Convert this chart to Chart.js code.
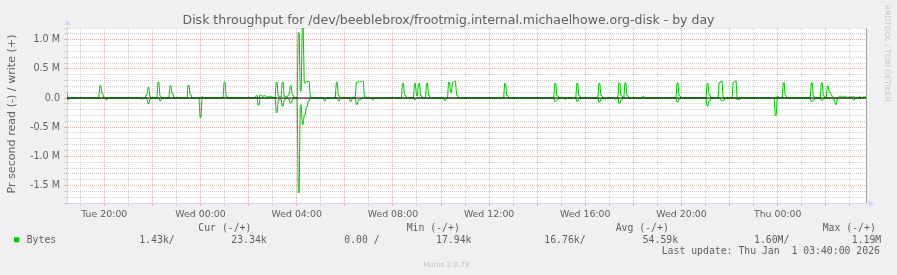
<!DOCTYPE html>
<html><head><meta charset="utf-8">
<script src="https://cdn.jsdelivr.net/npm/chart.js@4/dist/chart.umd.min.js"></script>
<style>html,body{margin:0;padding:0;background:#F0F0F0;}canvas{display:block;}</style>
</head><body>
<canvas id="c" width="897" height="275"></canvas>
<script>
// ---- data (values in M bytes/s; read shown below zero) ----
const times = [
"Tue 18:25","Tue 18:30","Tue 18:35","Tue 19:45","Tue 19:50","Tue 19:55","Tue 20:00","Tue 20:05","Tue 20:10",
"Tue 21:30","Tue 21:35","Tue 21:40","Tue 21:45","Tue 21:50","Tue 21:55","Tue 22:00","Tue 22:10","Tue 22:15","Tue 22:20","Tue 22:25",
"Tue 22:40","Tue 22:45","Tue 22:50","Tue 22:55","Tue 23:25","Tue 23:30","Tue 23:35","Tue 23:40","Tue 23:55",
"Wed 00:00","Wed 00:05","Wed 00:10","Wed 00:55","Wed 01:00","Wed 01:05","Wed 01:10",
"Wed 02:15","Wed 02:20","Wed 02:25","Wed 02:30","Wed 02:35","Wed 02:40","Wed 02:45","Wed 02:50","Wed 02:55","Wed 03:00","Wed 03:05",
"Wed 03:10","Wed 03:15","Wed 03:20","Wed 03:25","Wed 03:30","Wed 03:35","Wed 03:40","Wed 03:45","Wed 03:50","Wed 03:55","Wed 04:00",
"Wed 04:05","Wed 04:10","Wed 04:15","Wed 04:20","Wed 04:25","Wed 04:30","Wed 04:35","Wed 04:40",
"Wed 05:05","Wed 05:10","Wed 05:15","Wed 05:35","Wed 05:40","Wed 05:45","Wed 05:50",
"Wed 06:10","Wed 06:15","Wed 06:20","Wed 06:25","Wed 06:30","Wed 06:35","Wed 06:40","Wed 06:45","Wed 06:50","Wed 06:55",
"Wed 07:05","Wed 07:10","Wed 07:15","Wed 07:30","Wed 07:35","Wed 07:40",
"Wed 08:20","Wed 08:25","Wed 08:30","Wed 08:35","Wed 08:40","Wed 08:50","Wed 08:55","Wed 09:00","Wed 09:05","Wed 09:10","Wed 09:15",
"Wed 09:20","Wed 09:25","Wed 09:30","Wed 09:35","Wed 10:05","Wed 10:10","Wed 10:15","Wed 10:20","Wed 10:25","Wed 10:30","Wed 10:35","Wed 10:40","Wed 10:45",
"Wed 12:35","Wed 12:40","Wed 12:45","Wed 12:50",
"Wed 14:40","Wed 14:45","Wed 14:50","Wed 14:55","Wed 15:05","Wed 15:10","Wed 15:15",
"Wed 15:35","Wed 15:40","Wed 15:45","Wed 15:50","Wed 16:30","Wed 16:35","Wed 16:40","Wed 16:45","Wed 16:50","Wed 16:55",
"Wed 17:10","Wed 17:15","Wed 17:20","Wed 17:25","Wed 17:30","Wed 17:35","Wed 17:40","Wed 17:45","Wed 17:50",
"Wed 18:10","Wed 18:15","Wed 18:20","Wed 18:25","Wed 18:30","Wed 19:45","Wed 19:50","Wed 19:55","Wed 20:00",
"Wed 21:00","Wed 21:05","Wed 21:10","Wed 21:15","Wed 21:30","Wed 21:35","Wed 21:40","Wed 21:45","Wed 21:50",
"Wed 22:05","Wed 22:10","Wed 22:15","Wed 22:20","Wed 22:25","Wed 22:30","Wed 23:50","Wed 23:55",
"Thu 00:00","Thu 00:05","Thu 00:10","Thu 00:15","Thu 00:20","Thu 00:25",
"Thu 01:20","Thu 01:25","Thu 01:30","Thu 01:35","Thu 01:45","Thu 01:50","Thu 01:55","Thu 02:00",
"Thu 02:05","Thu 02:10","Thu 02:15","Thu 02:20","Thu 02:25","Thu 02:30","Thu 02:35","Thu 02:40","Thu 02:45","Thu 02:50",
"Thu 02:55","Thu 03:00","Thu 03:05","Thu 03:10","Thu 03:15","Thu 03:20","Thu 03:25","Thu 03:30","Thu 03:35","Thu 03:40"
];
const writeM = [
0.10,0,0,0,0.21,0.08,0,0,0,
0,0,0,0.05,0.18,0.02,0,0,0.27,0.03,0,
0,0.21,0.08,0,0,0.22,0.06,0,0,
0,0.02,0,0,0.27,0.03,0,
0,0.04,0,0.05,0.03,0.04,0.02,0.02,0.03,0.01,0,
0.27,0.03,0.02,0.27,0.03,0.02,0.05,0.21,0.05,0,0,
1.12,0.12,1.20,0.26,0.28,0.28,0.02,0,
0,0,0,0,0.27,0.04,0,
0,0,0,0.02,0.27,0.28,0.28,0.29,0.02,0,
0,0,0,0,0,0,
0,0.25,0.05,0.01,0,0,0.25,0.04,0.25,0.04,0,
0,0.25,0.04,0,0,0,0,0.27,0.10,0.27,0.29,0.05,0,
0,0.25,0.05,0,
0,0.25,0.04,0,0,0,0,
0,0.25,0.04,0,0,0.25,0.04,0,0,0,
0,0,0,0.26,0.04,0,0.26,0.04,0,
0,0,0,0.03,0,0,0.26,0.04,0,
0,0.25,0.05,0,0,0.26,0.29,0,0,
0,0.27,0.29,0,0,0,0,0,
0.03,0,0,0.26,0.04,0,
0,0.26,0.03,0,0,0.26,0.04,0,
0.20,0.10,0.04,0.01,0,0,0.03,0.03,0.02,0.03,
0.01,0.02,0.02,0.02,0.01,0.01,0.02,0.01,0.02,0.023
];
const readM = [
0,0.03,0,0,0,0,0,0.03,0,
0,0.02,0,0,0.10,0.02,0,0,0,0.05,0,
0,0,0,0,0,0,0,0,0,
0.33,0,0,0,0,0,0,
0,0,0.12,0,0,0,0.01,0,0,0,0,
0.25,0.03,0.02,0.14,0.03,0,0.02,0.09,0.03,0,0,
1.62,0.12,0.45,0.29,0.15,0.05,0,0,
0,0.05,0,0,0,0.05,0,
0,0.06,0,0,0.11,0.03,0.02,0,0,0,
0,0.03,0,0,0.01,0,
0,0,0,0,0,0,0.03,0,0,0,0,
0,0,0,0,0,0.04,0,0,0,0,0,0,0,
0,0,0,0,
0,0.06,0.03,0,0,0.02,0,
0,0.06,0,0,0,0.07,0.02,0,0.02,0,
0,0.02,0,0.09,0.03,0,0,0,0,
0,0.01,0,0,0,0,0.07,0.02,0,
0,0.14,0.05,0,0,0,0.04,0.04,0,
0,0,0,0.03,0.02,0,0,0.30,
0,0,0,0,0,0,
0,0.06,0.03,0,0,0.04,0.02,0,
0,0,0,0.03,0.11,0.01,0,0,0,0,
0,0,0,0.03,0,0,0,0,0,0.0014
];
const xTickHours  = [20, 24, 28, 32, 36, 40, 44, 48];
const xTickLabels = ["Tue 20:00","Wed 00:00","Wed 04:00","Wed 08:00","Wed 12:00","Wed 16:00","Wed 20:00","Thu 00:00"];
const yTickValues = [-1.5, -1.0, -0.5, 0, 0.5, 1.0];
const yTickLabels = ["-1.5 M","-1.0 M","-0.5 M","0.0","0.5 M","1.0 M"];
const title = "Disk throughput for /dev/beeblebrox/frootmig.internal.michaelhowe.org-disk - by day";
const yTitle = "Pr second read (-) / write (+)";
const legendHeaders = ["Cur (-/+)","Min (-/+)","Avg (-/+)","Max (-/+)"];
const legendName = "Bytes";
const legendValues = ["1.43k/","23.34k","0.00 /","17.94k","16.76k/","54.59k","1.60M/","1.19M"];
const lastUpdate = "Last update: Thu Jan  1 03:40:00 2026";

// ---- build ----
const dayIndex = {Tue:0, Wed:1, Thu:2};
function toHours(s){const p=s.split(' ');const hm=p[1].split(':').map(Number);return dayIndex[p[0]]*24+hm[0]+hm[1]/60;}
const X_MIN = 18.449, X_MAX = 51.713;
const HALF = 1.25/60; // each 5-minute sample spans two pixel columns, as rrdtool draws it
const GREEN = '#00CC00';
const MINOR = 'rgba(180,180,180,0.6)';
const MAJOR = 'rgba(225,110,110,0.55)';
const FONT_C = '#606060';

function series(vals, sign){
  const out = [];
  times.forEach((t,i)=>{const h=toHours(t);const v=sign*vals[i];
    out.push({x:h-HALF, y:v}); out.push({x:h+HALF, y:v});});
  return out;
}
const writeData = series(writeM, 1);
const readData  = series(readM, -1);

const deco = {
  id:'deco',
  beforeDraw(chart){
    const {ctx, chartArea:a} = chart;
    ctx.save();
    ctx.fillStyle = '#F0F0F0'; ctx.fillRect(0,0,chart.width,chart.height);
    ctx.fillStyle = '#FFFFFF'; ctx.fillRect(a.left, a.top, a.right-a.left, a.bottom-a.top);
    ctx.restore();
  },
  afterDraw(chart){
    const {ctx, chartArea:a} = chart;
    ctx.save();
    ctx.strokeStyle = '#A0A0A0'; ctx.lineWidth = 1;
    ctx.beginPath(); ctx.moveTo(a.right-0.5, a.top); ctx.lineTo(a.right-0.5, a.bottom); ctx.stroke();
    ctx.strokeStyle = '#CFD6F8'; ctx.fillStyle = '#CFD6F8';
    ctx.beginPath(); ctx.moveTo(a.left+0.5, a.top); ctx.lineTo(a.left+0.5, a.top-3); ctx.stroke();
    ctx.beginPath(); ctx.moveTo(a.left-2.5, a.top-3); ctx.lineTo(a.left+3.5, a.top-3); ctx.lineTo(a.left+0.5, a.top-8); ctx.closePath(); ctx.fill();
    ctx.beginPath(); ctx.moveTo(a.right, a.bottom+0.5); ctx.lineTo(a.right+2, a.bottom+0.5); ctx.stroke();
    ctx.beginPath(); ctx.moveTo(a.right+2, a.bottom-2.5); ctx.lineTo(a.right+2, a.bottom+3.5); ctx.lineTo(a.right+7, a.bottom+0.5); ctx.closePath(); ctx.fill();
    ctx.fillStyle = FONT_C;
    ctx.font = '12.5px "DejaVu Sans"'; ctx.textAlign = 'center'; ctx.textBaseline = 'alphabetic';
    ctx.fillText(title, 448.5, 23.5);
    ctx.save(); ctx.translate(15, 114); ctx.rotate(-Math.PI/2);
    ctx.font = '11.1px "DejaVu Sans"'; ctx.fillText(yTitle, 0, 0); ctx.restore();
    ctx.save(); ctx.translate(884.5, 5); ctx.rotate(Math.PI/2);
    ctx.fillStyle = '#C8C8C8'; ctx.font = '7.5px "DejaVu Sans"'; ctx.textAlign = 'left';
    ctx.fillText("RRDTOOL / TOBI OETIKER", 0, 0); ctx.restore();
    ctx.textAlign = 'left';
    ctx.font = '9.8px "DejaVu Sans Mono"';
    const hx = [198.3, 406.7, 615.7, 822.7];
    legendHeaders.forEach((h,i)=>ctx.fillText(h, hx[i], 231));
    ctx.fillStyle = GREEN; ctx.fillRect(14, 237.3, 5.3, 5);
    ctx.fillStyle = FONT_C;
    ctx.fillText(legendName, 26.7, 242.5);
    const vx = [139.3, 231.3, 344.3, 436.1, 544.3, 642.7, 754, 851.7];
    legendValues.forEach((v,i)=>ctx.fillText(v, vx[i], 242.5));
    ctx.fillText(lastUpdate, 661.7, 254);
    ctx.fillStyle = '#C0C0C0'; ctx.font = '7px "DejaVu Sans"';
    ctx.fillText("Munin 2.0.73", 423.3, 267);
    ctx.restore();
  }
};

new Chart(document.getElementById('c'), {
  type:'line',
  data:{datasets:[
    {label:'write', data:writeData, borderColor:GREEN, borderWidth:1, pointRadius:0, tension:0, fill:false, order:2},
    {label:'read', data:readData, borderColor:GREEN, borderWidth:1, pointRadius:0, tension:0, fill:false, order:2},
    {label:'zero', data:[{x:X_MIN,y:0},{x:X_MAX,y:0}], borderColor:'#000000', borderWidth:1, pointRadius:0, fill:false, order:1}
  ]},
  options:{
    responsive:false, devicePixelRatio:1, animation:false,
    layout:{padding:{left:0, right:30, top:28, bottom:0}},
    plugins:{legend:{display:false}, title:{display:false}, tooltip:{enabled:false}},
    scales:{
      x:{type:'linear', min:X_MIN, max:X_MAX,
        afterBuildTicks(s){const t=[];for(let h=19;h<=51;h++)t.push({value:h});s.ticks=t;},
        afterFit(s){s.height=72;},
        ticks:{autoSkip:false, maxRotation:0, minRotation:0, padding:3, color:FONT_C,
          font:{family:'DejaVu Sans', size:9.4},
          callback(v){const i=xTickHours.indexOf(Math.round(v));return i>=0?xTickLabels[i]:'';}},
        grid:{color(c){return (Math.round(c.tick.value)%2===0)?MAJOR:MINOR;}, lineWidth:1, drawTicks:true, tickLength:3,
          tickColor(c){return (Math.round(c.tick.value)%2===0)?MAJOR:MINOR;}},
        border:{display:true, color:'#CFD6F8', width:1, dash:[1,1]}
      },
      y:{type:'linear', min:-1.8, max:1.2,
        afterBuildTicks(s){const t=[];for(let i=-18;i<=12;i++)t.push({value:i/10});s.ticks=t;},
        afterFit(s){s.width=67;},
        ticks:{autoSkip:false, padding:4, color:FONT_C, font:{family:'DejaVu Sans', size:9.6},
          callback(v){const r=Math.round(v*10);const i=yTickValues.findIndex(q=>Math.round(q*10)===r);return i>=0?yTickLabels[i]:'';}},
        grid:{color(c){return (Math.round(c.tick.value*10)%5===0)?MAJOR:MINOR;}, lineWidth:1, drawTicks:true, tickLength:3,
          tickColor(c){return (Math.round(c.tick.value*10)%5===0)?MAJOR:MINOR;}},
        border:{display:true, color:'#CFD6F8', width:1, dash:[1,1]}
      }
    }
  },
  plugins:[deco]
});
</script>
</body></html>
